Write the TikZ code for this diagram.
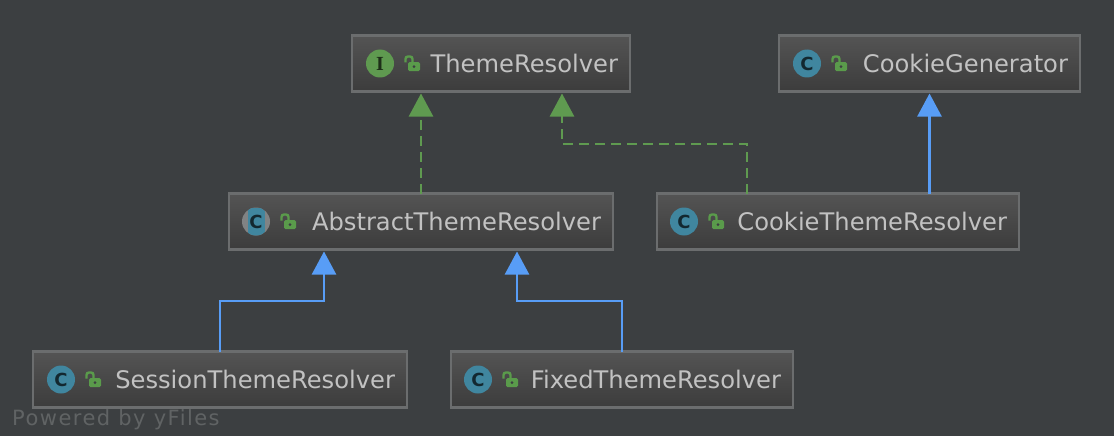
\documentclass[tikz,border=0pt]{standalone}
\usepackage{fontspec}
\setmainfont{DejaVu Sans}
\newfontfamily\yfont[LetterSpace=7]{DejaVu Sans}
\newfontfamily\islab{Liberation Serif}
\usetikzlibrary{arrows.meta,positioning}
\definecolor{canvas}{HTML}{3C3F41}
\definecolor{boxline}{HTML}{6B6D6E}
\definecolor{boxtop}{HTML}{545454}
\definecolor{boxbot}{HTML}{3C3C3C}
\definecolor{labelgray}{HTML}{C2C2C2}
\definecolor{classblue}{HTML}{40869F}
\definecolor{ifacegreen}{HTML}{5F9A50}
\definecolor{arrowblue}{HTML}{589DF6}
\definecolor{lockgreen}{HTML}{5A9B4B}
\definecolor{wmgray}{HTML}{606364}
\tikzset{
  classbox/.style={draw=boxline,line width=2.4pt,top color=boxtop,bottom color=boxbot,
    minimum height=56pt,inner xsep=12pt,inner ysep=0pt,outer sep=0pt,align=flush right,
    text=labelgray,text height=18.6pt,text depth=0pt,font=\fontsize{24.2}{26}\selectfont},
  iconc/.style={circle,fill=classblue,minimum size=28pt,inner sep=0pt,text=black!70!classblue,
    font=\fontsize{18}{18}\selectfont\bfseries},
  iconi/.style={iconc,fill=ifacegreen,text=black!70!ifacegreen,font=\islab\fontsize{20}{20}\selectfont\bfseries},
  iconabs/.style={iconc,fill=boxline!85!white,path picture={
    \fill[classblue] ([xshift=-8.5pt]path picture bounding box.south) rectangle
      ([xshift=8.5pt]path picture bounding box.north);}},
  realize/.style={-{Triangle[length=23pt,width=24pt]},shorten >=2pt,line width=2.4pt,
    draw=ifacegreen,dash pattern=on 10pt off 6pt},
  extend/.style={-{Triangle[length=23pt,width=24pt]},shorten >=2pt,line width=2.4pt,draw=arrowblue},
  lockicon/.pic={
    \draw[lockgreen,line width=2.4pt,rounded corners=2.5pt] (-6.5,-1) -- (-6.5,-7) -- (0.5,-7) -- (0.5,0);
    \fill[lockgreen,rounded corners=1.5pt] (-4,-1.3) rectangle (8,7.7);
    \fill[canvas] (2,3.2) circle (1.5);
  }
}
\begin{document}
\begin{tikzpicture}[x=1pt,y=-1pt]
  \useasboundingbox[fill=canvas] (0,0) rectangle (1114,436);

  % class boxes
  \node[classbox,text width=254pt] (theme) at (491,63.5) {ThemeResolver};
  \node[classbox,text width=277pt] (cookiegen) at (929.5,63.5) {CookieGenerator};
  \node[classbox,text width=360pt] (abstract) at (421,221.5) {AbstractThemeResolver};
  \node[classbox,text width=338pt] (cookietheme) at (838,221.5) {CookieThemeResolver};
  \node[classbox,text width=350pt] (session) at (220,379.5) {SessionThemeResolver};
  \node[classbox,text width=318pt] (fixed) at (622,379.5) {FixedThemeResolver};

  % icons
  \node[iconi] (themeicon) at ([xshift=28]theme.west) {I};
  \node[iconc] (cookiegenicon) at ([xshift=28]cookiegen.west) {C};
  \node[iconabs] (abstracticon) at ([xshift=27]abstract.west) {C};
  \node[iconc] (cookiethemeicon) at ([xshift=27]cookietheme.west) {C};
  \node[iconc] (sessionicon) at ([xshift=28]session.west) {C};
  \node[iconc] (fixedicon) at ([xshift=27]fixed.west) {C};
  \foreach \boxname in {theme,cookiegen,abstract,cookietheme,session,fixed}
    \pic at ([xshift=32]\boxname icon.center) {lockicon};

  % inheritance
  \draw[realize] (abstract.north) -- (abstract.north |- theme.south);
  \draw[realize] ([xshift=-91]cookietheme.north) |- (562,144) -- ([xshift=71]theme.south);
  \draw[extend] (cookietheme.north -| cookiegen.south) -- (cookiegen.south);
  \draw[extend] (session.north) |- (324,301) -- ([xshift=-97]abstract.south);
  \draw[extend] (fixed.north) |- (517,301) -- ([xshift=96]abstract.south);

  \node[anchor=base west,inner sep=0pt,text=wmgray,font=\yfont\fontsize{21}{21}\selectfont] (poweredby)
    at (12,425) {Powered by yFiles};
\end{tikzpicture}
\end{document}
